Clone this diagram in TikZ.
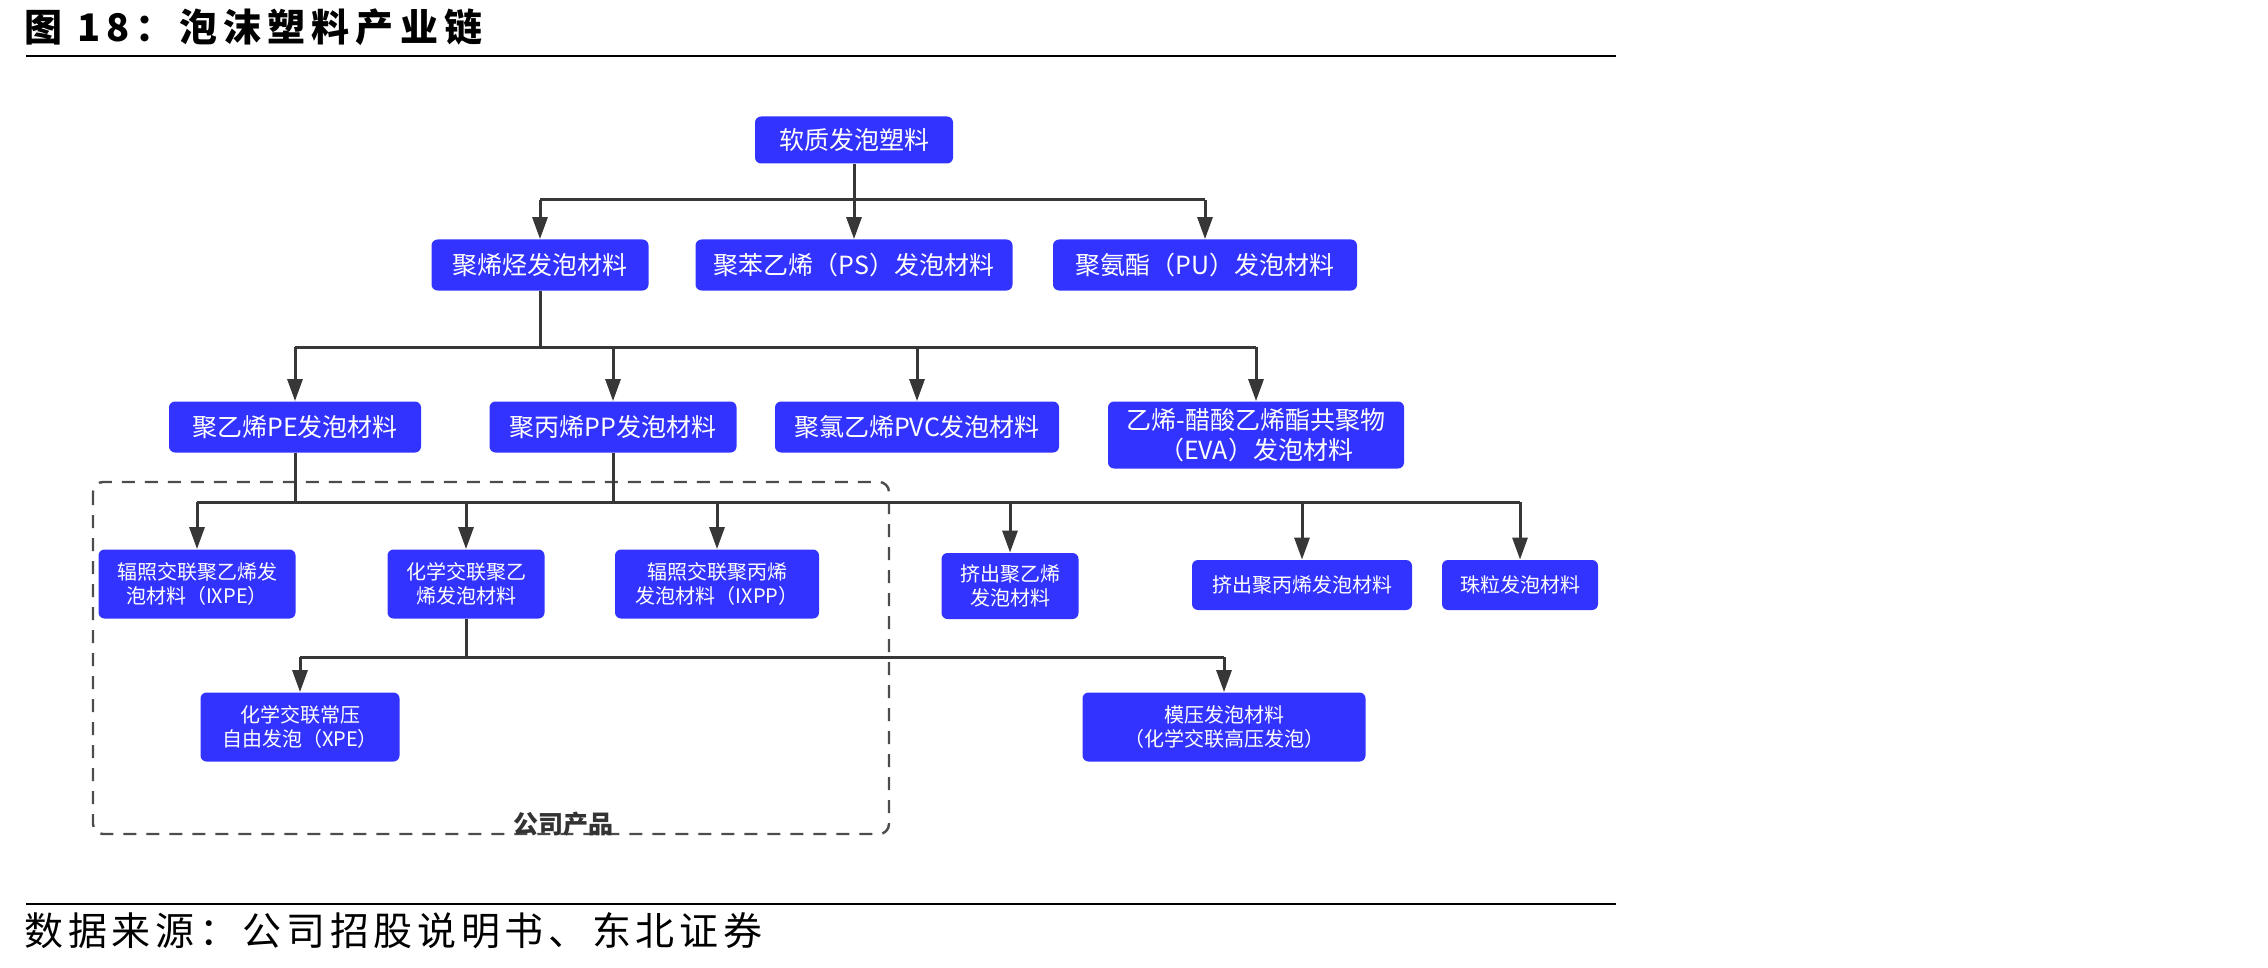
\documentclass[tikz,border=0pt]{standalone}
\usepackage{fontspec}
\usepackage{tikz}
\usetikzlibrary{arrows.meta, positioning, calc}
\newfontfamily\cjk{Noto Sans CJK SC}
\newfontfamily\cjktitle[LetterSpace=16]{Noto Sans CJK SC}
\newfontfamily\cjksrc[LetterSpace=12]{Noto Sans CJK SC}
\definecolor{boxblue}{RGB}{51,51,255}
\definecolor{linegray}{RGB}{55,55,55}
\tikzset{
  box/.style={fill=boxblue, text=white, rounded corners=3pt, inner sep=0pt, align=center,
    font=\cjk\fontsize{12.5}{15}\selectfont},
  leaf/.style={box, font=\cjk\fontsize{10}{12}\selectfont},
  sz/.style n args={2}{minimum width=#1*0.5pt, minimum height=#2*0.5pt},
  link/.style={line width=1.5pt, linegray},
  flow/.style={link, -{Triangle[length=11pt, width=7.5pt]}},
  company/.style={draw=black!70, line width=1.2pt, dash pattern=on 6.5pt off 5pt, rounded corners=5pt},
}

\begin{document}
\begin{tikzpicture}[x=0.5pt, y=-0.5pt]
  \useasboundingbox (0,0) rectangle (2268,968);

  % heading and source
  \node[anchor=west, inner sep=0pt, font=\cjktitle\bfseries\fontsize{19}{20}\selectfont] (title) at (24,27) {图 18：泡沫塑料产业链};
  \draw[line width=1.2pt] (26,56) -- (1616,56);
  \draw[line width=1.2pt] (26,904) -- (1616,904);
  \node[anchor=west, inner sep=0pt, font=\cjksrc\fontsize{19.5}{22}\selectfont] (source) at (24,931) {数据来源：公司招股说明书、东北证券};

  % company products
  \draw[company] (93,482) rectangle (889,834);
  \node[anchor=south, inner sep=0pt, text=black!80, font=\cjk\bfseries\fontsize{12.5}{14}\selectfont] (own) at (563,837) {公司产品};

  % level 1-3
  \node[box, sz={198}{47}] (root) at (854,140) {软质发泡塑料};
  \node[box, sz={217}{51}] (pof) at (540,265) {聚烯烃发泡材料};
  \node[box, sz={317}{51}] (ps) at (854,265) {聚苯乙烯（PS）发泡材料};
  \node[box, sz={304}{51}] (pu) at (1205,265) {聚氨酯（PU）发泡材料};
  \node[box, sz={252}{51}] (pe) at (295,427) {聚乙烯PE发泡材料};
  \node[box, sz={247}{51}] (pp) at (613,427) {聚丙烯PP发泡材料};
  \node[box, sz={284}{51}] (pvc) at (917,427) {聚氯乙烯PVC发泡材料};
  \node[box, sz={296}{67}] (eva) at (1256,435) {乙烯-醋酸乙烯酯共聚物\\（EVA）发泡材料};

  % level 4-5
  \node[leaf, sz={197}{69}] (ixpe) at (197,584) {辐照交联聚乙烯发\\泡材料（IXPE）};
  \node[leaf, sz={157}{69}] (chem) at (466,584) {化学交联聚乙\\烯发泡材料};
  \node[leaf, sz={204}{69}] (ixpp) at (717,584) {辐照交联聚丙烯\\发泡材料（IXPP）};
  \node[leaf, sz={137}{66}] (epe) at (1010,586) {挤出聚乙烯\\发泡材料};
  \node[leaf, sz={220}{50}] (epp) at (1302,585) {挤出聚丙烯发泡材料};
  \node[leaf, sz={156}{50}] (bead) at (1520,585) {珠粒发泡材料};
  \node[leaf, sz={199}{69}] (xpe) at (300,727) {化学交联常压\\自由发泡（XPE）};
  \node[leaf, sz={283}{69}] (mold) at (1224,727) {模压发泡材料\\（化学交联高压发泡）};

  % trees
  \coordinate (bus1) at (0,200);
  \coordinate (bus2) at (0,347);
  \coordinate (bus3) at (0,502);
  \coordinate (bus4) at (0,657);

  \draw[link] (root) -- (root |- bus1);
  \draw[link] (bus1 -| pof) -- (bus1 -| pu);
  \foreach \c in {pof,ps,pu} \draw[flow] (bus1 -| \c) -- (\c);

  \draw[link] (pof) -- (pof |- bus2);
  \draw[link] (bus2 -| pe) -- (bus2 -| eva);
  \foreach \c in {pe,pp,pvc,eva} \draw[flow] (bus2 -| \c) -- (\c);

  \draw[link] (pe) -- (pe |- bus3);
  \draw[link] (pp) -- (pp |- bus3);
  \draw[link] (bus3 -| ixpe) -- (bus3 -| bead);
  \foreach \c in {ixpe,chem,ixpp,epe,epp,bead} \draw[flow] (bus3 -| \c) -- (\c);

  \draw[link] (chem) -- (chem |- bus4);
  \draw[link] (bus4 -| xpe) -- (bus4 -| mold);
  \foreach \c in {xpe,mold} \draw[flow] (bus4 -| \c) -- (\c);
\end{tikzpicture}
\end{document}
